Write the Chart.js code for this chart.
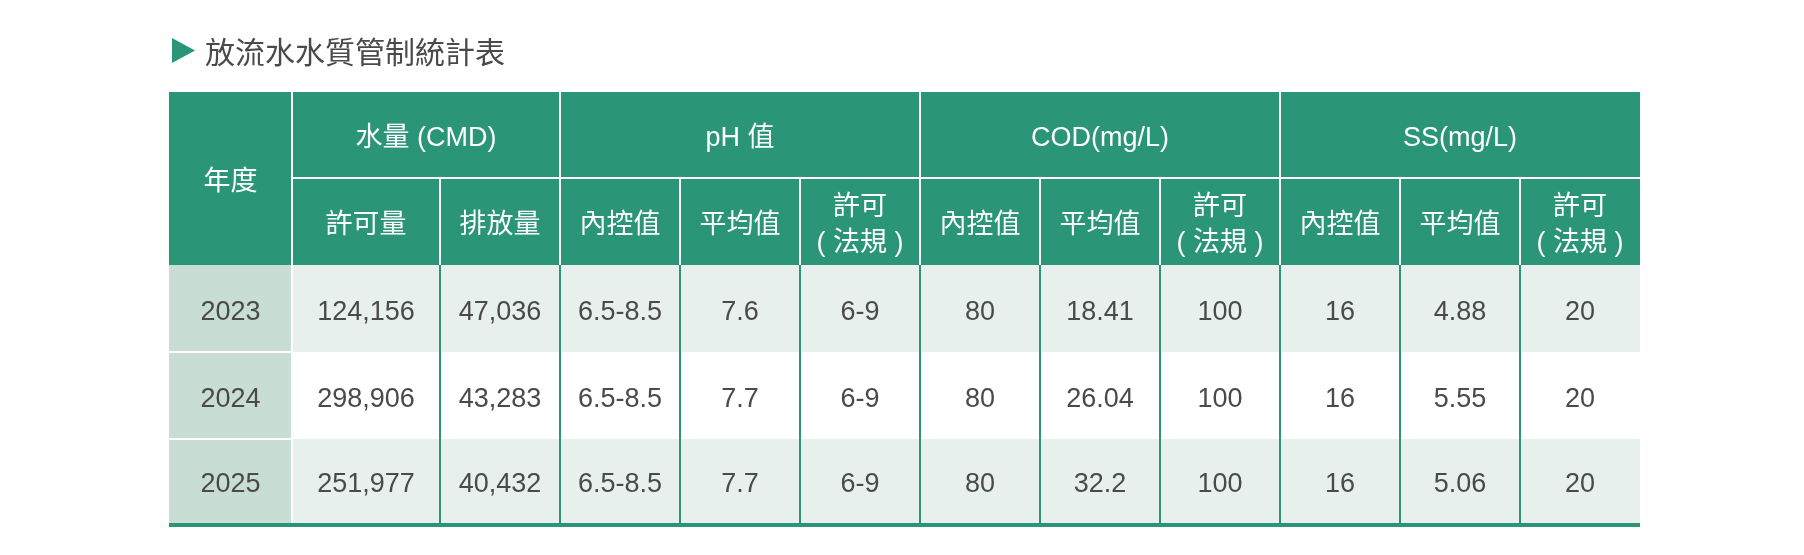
<!DOCTYPE html>
<html>
<head>
<meta charset="utf-8">
<script src="https://cdn.jsdelivr.net/npm/chart.js@4"></script>
<style>
  html, body { margin: 0; padding: 0; background: #fff; }
  #wrap { width: 1804px; height: 555px; position: relative; }
</style>
</head>
<body>
<div id="wrap"><canvas id="myChart"></canvas></div>
<script>
// data
const titleText = '放流水水質管制統計表';
const years = ['2023', '2024', '2025'];
const permitFlow = [124156, 298906, 251977];
const dischargeFlow = [47036, 43283, 40432];
const phInternal = ['6.5-8.5', '6.5-8.5', '6.5-8.5'];
const phAverage = [7.6, 7.7, 7.7];
const phLimit = ['6-9', '6-9', '6-9'];
const codInternal = [80, 80, 80];
const codAverage = [18.41, 26.04, 32.2];
const codLimit = [100, 100, 100];
const ssInternal = [16, 16, 16];
const ssAverage = [4.88, 5.55, 5.06];
const ssLimit = [20, 20, 20];

const yearHeader = '年度';
const groupLabels = ['水量 (CMD)', 'pH 值', 'COD(mg/L)', 'SS(mg/L)'];
const groupSpans = [2, 3, 3, 3];
const subLabels = [
  ['許可量'], ['排放量'],
  ['內控值'], ['平均值'], ['許可', '( 法規 )'],
  ['內控值'], ['平均值'], ['許可', '( 法規 )'],
  ['內控值'], ['平均值'], ['許可', '( 法規 )'],
];

const fmt = (v) => (typeof v === 'number' && v >= 1000 ? v.toLocaleString('en-US') : String(v));
const columns = [permitFlow, dischargeFlow, phInternal, phAverage, phLimit,
  codInternal, codAverage, codLimit, ssInternal, ssAverage, ssLimit];

// layout (page units, mapped through the scales)
const colEdges = [169, 292, 440, 560, 680, 800, 920, 1040, 1160, 1280, 1400, 1520, 1640];
const rowEdges = [92, 178, 265, 352, 439, 523];
const TEXT_SHIFT = 4;

const GREEN = '#2a9577';
const YEAR_BG = '#c8ded5';
const LIGHT_BG = '#e7f0ed';
const TEXT = '#4a4a4a';
const FONT = '"Liberation Sans", "Noto Sans CJK TC", sans-serif';
const CJK = '"Noto Sans CJK TC", sans-serif';

const tablePlugin = {
  id: 'tablePlugin',
  afterDraw(chart) {
    const ctx = chart.ctx;
    const px = (v) => chart.scales.x.getPixelForValue(v);
    const py = (v) => chart.scales.y.getPixelForValue(v);
    const rect = (x0, y0, x1, y1, color) => {
      ctx.fillStyle = color;
      ctx.fillRect(px(x0), py(y0), px(x1) - px(x0), py(y1) - py(y0));
    };
    const last = colEdges.length - 1;
    ctx.save();

    // title
    ctx.fillStyle = GREEN;
    ctx.beginPath();
    ctx.moveTo(px(172), py(38));
    ctx.lineTo(px(195), py(50.5));
    ctx.lineTo(px(172), py(63));
    ctx.closePath();
    ctx.fill();
    ctx.fillStyle = TEXT;
    ctx.font = '30px ' + CJK;
    ctx.textAlign = 'left';
    ctx.textBaseline = 'middle';
    ctx.fillText(titleText, px(205), py(52));

    // header background
    rect(colEdges[0], rowEdges[0], colEdges[last], rowEdges[2], GREEN);

    // body backgrounds
    for (let r = 0; r < years.length; r++) {
      const y0 = rowEdges[2 + r], y1 = rowEdges[3 + r];
      rect(colEdges[0], y0, colEdges[1], y1, YEAR_BG);
      rect(colEdges[1], y0, colEdges[last], y1, r % 2 === 0 ? LIGHT_BG : '#ffffff');
    }

    // header lines
    rect(colEdges[1], rowEdges[1] - 1, colEdges[last], rowEdges[1] + 1, '#ffffff');
    let c = 1;
    for (let g = 0; g < groupSpans.length; g++) {
      rect(colEdges[c] - 1, rowEdges[0], colEdges[c] + 1, rowEdges[1], '#ffffff');
      c += groupSpans[g];
    }
    for (let i = 1; i < last; i++) {
      rect(colEdges[i] - 1, rowEdges[1], colEdges[i] + 1, rowEdges[2], '#ffffff');
    }

    // body lines
    rect(colEdges[1] - 1, rowEdges[2], colEdges[1] + 1, rowEdges[5], '#ffffff');
    for (let i = 2; i < last; i++) {
      rect(colEdges[i] - 1, rowEdges[2], colEdges[i] + 1, rowEdges[5], GREEN);
    }
    for (let r = 3; r < 5; r++) {
      rect(colEdges[0], rowEdges[r] - 1, colEdges[1], rowEdges[r] + 1, '#ffffff');
    }
    rect(colEdges[0], rowEdges[5], colEdges[last], rowEdges[5] + 4, GREEN);

    // header text
    ctx.textAlign = 'center';
    ctx.textBaseline = 'middle';
    ctx.fillStyle = '#ffffff';
    ctx.font = '27px ' + FONT;
    ctx.fillText(yearHeader, px((colEdges[0] + colEdges[1]) / 2), py((rowEdges[0] + rowEdges[2]) / 2 + TEXT_SHIFT));
    c = 1;
    for (let g = 0; g < groupLabels.length; g++) {
      const cx = (colEdges[c] + colEdges[c + groupSpans[g]]) / 2;
      ctx.fillText(groupLabels[g], px(cx), py((rowEdges[0] + rowEdges[1]) / 2 + TEXT_SHIFT));
      c += groupSpans[g];
    }
    for (let i = 0; i < subLabels.length; i++) {
      const cx = (colEdges[i + 1] + colEdges[i + 2]) / 2;
      const cy = (rowEdges[1] + rowEdges[2]) / 2 + TEXT_SHIFT;
      const lines = subLabels[i];
      lines.forEach((t, k) => {
        ctx.fillText(t, px(cx), py(cy + (k - (lines.length - 1) / 2) * 36));
      });
    }

    // body text
    ctx.fillStyle = TEXT;
    for (let r = 0; r < years.length; r++) {
      const cy = (rowEdges[2 + r] + rowEdges[3 + r]) / 2 + TEXT_SHIFT;
      ctx.fillText(years[r], px((colEdges[0] + colEdges[1]) / 2), py(cy));
      columns.forEach((col, i) => {
        const cx = (colEdges[i + 1] + colEdges[i + 2]) / 2;
        ctx.fillText(fmt(col[r]), px(cx), py(cy));
      });
    }
    ctx.restore();
  },
};

const config = {
  type: 'scatter',
  data: { datasets: [] },
  options: {
    responsive: true,
    maintainAspectRatio: false,
    animation: false,
    layout: { padding: 0 },
    plugins: {
      legend: { display: false },
      tooltip: { enabled: false },
    },
    scales: {
      x: { type: 'linear', min: 0, max: 1804, display: false },
      y: { type: 'linear', min: 0, max: 555, reverse: true, display: false },
    },
  },
  plugins: [tablePlugin],
};

const tableChart = new Chart(document.getElementById('myChart'), config);
</script>
</body>
</html>
